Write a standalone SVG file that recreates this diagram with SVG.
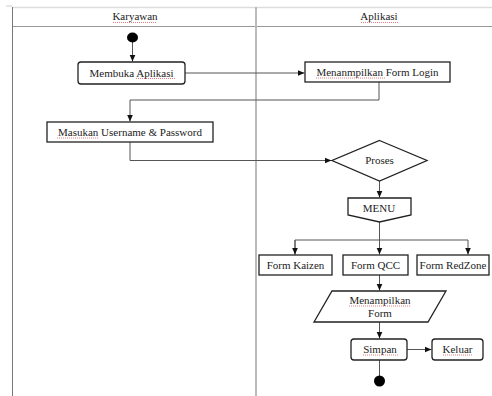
<svg xmlns="http://www.w3.org/2000/svg" width="492" height="396" viewBox="0 0 492 396">
<style>
.t{font-family:"Liberation Serif","Times New Roman",serif;font-size:11px;fill:#222;text-anchor:middle}
.b{fill:#fff;stroke:#222;stroke-width:1.3}
.c{fill:none;stroke:#555;stroke-width:1}
.sq{fill:none;stroke:#e06060;stroke-width:0.8;stroke-dasharray:1 1}
</style>
<defs>
<marker id="ah" markerWidth="8" markerHeight="8" refX="7" refY="4" orient="auto" markerUnits="userSpaceOnUse">
<path d="M0,1 L7,4 L0,7 Z" fill="#111"/>
</marker>
</defs>
<rect width="492" height="396" fill="#fff"/>
<g id="lanes">
<line x1="12" y1="7.5" x2="492" y2="7.5" stroke="#ddd" stroke-width="1.5"/>
<line x1="12" y1="26.5" x2="492" y2="26.5" stroke="#999" stroke-width="1"/>
<line x1="12.5" y1="7" x2="12.5" y2="396" stroke="#777" stroke-width="1"/>
<line x1="256" y1="7" x2="256" y2="396" stroke="#bbb" stroke-width="2"/>
<path d="M6,6 h6" stroke="#ccc" stroke-width="1"/>
<text class="t" x="135" y="20">Karyawan</text>
<text class="t" x="379" y="20">Aplikasi</text>
</g>
<g id="connectors">
<line class="c" x1="132.5" y1="42" x2="132.5" y2="61.5" marker-end="url(#ah)"/>
<line class="c" x1="185" y1="73" x2="304.5" y2="73" marker-end="url(#ah)"/>
<polyline class="c" points="379,82 379,100 130,100 130,121.5" marker-end="url(#ah)"/>
<polyline class="c" points="130,142 130,160.5 331.5,160.5" marker-end="url(#ah)"/>
<line class="c" x1="379.5" y1="181" x2="379.5" y2="197.5" marker-end="url(#ah)"/>
<line class="c" x1="379.5" y1="222" x2="379.5" y2="254.5" marker-end="url(#ah)"/>
<polyline class="c" points="295,254.5 295,240 468,240 468,254.5" marker-end="url(#ah)"/>
<line class="c" x1="295" y1="240" x2="295" y2="254.5" marker-end="url(#ah)"/>
<line class="c" x1="379.5" y1="275" x2="379.5" y2="290.5" marker-end="url(#ah)"/>
<line class="c" x1="379.5" y1="322" x2="379.5" y2="338.5" marker-end="url(#ah)"/>
<line class="c" x1="407" y1="349.5" x2="431.5" y2="349.5" marker-end="url(#ah)"/>
<line class="c" x1="379.5" y1="360" x2="379.5" y2="376"/>
</g>
<g id="start">
<ellipse cx="132.5" cy="37.5" rx="5.5" ry="5" fill="#000"/>
</g>
<g id="membuka">
<rect class="b" x="78" y="62" width="107" height="22" rx="3"/>
<text class="t" x="131.5" y="76.5">Membuka Aplikasi</text>
</g>
<g id="login">
<rect class="b" x="305" y="62" width="145" height="20"/>
<text class="t" x="377.5" y="76">Menanmpilkan Form Login</text>
</g>
<g id="masukan">
<rect class="b" x="47" y="122" width="166" height="20"/>
<text class="t" x="130" y="136">Masukan Username &amp; Password</text>
</g>
<g id="proses">
<polygon class="b" points="379.5,140.5 427,160.5 379.5,181 332,160.5"/>
<text class="t" x="379.5" y="164">Proses</text>
</g>
<g id="menu">
<polygon class="b" points="348,198 411,198 411,215 379.5,222 348,215"/>
<text class="t" x="379" y="212">MENU</text>
</g>
<g id="kaizen">
<rect class="b" x="259" y="255" width="73" height="20"/>
<text class="t" x="295.5" y="269">Form Kaizen</text>
</g>
<g id="qcc">
<rect class="b" x="343" y="255" width="65" height="20"/>
<text class="t" x="375.5" y="269">Form QCC</text>
</g>
<g id="redzone">
<rect class="b" x="417" y="255" width="72" height="20"/>
<text class="t" x="453" y="269">Form RedZone</text>
</g>
<g id="tampil">
<polygon class="b" points="332,291 446,291 428,322 314,322"/>
<text class="t" x="380" y="304">Menampilkan</text>
<text class="t" x="380" y="317">Form</text>
</g>
<g id="simpan">
<rect class="b" x="351" y="339" width="56" height="21" rx="3"/>
<text class="t" x="380" y="353">Simpan</text>
</g>
<g id="keluar">
<rect class="b" x="432" y="339" width="51" height="21" rx="3"/>
<text class="t" x="457.5" y="353">Keluar</text>
</g>
<g id="end">
<ellipse cx="379.5" cy="381" rx="5.5" ry="5.5" fill="#000"/>
</g>
<g id="spellmarks">
<line class="sq" x1="113" y1="22.5" x2="157" y2="22.5"/>
<line class="sq" x1="361" y1="22.5" x2="398" y2="22.5"/>
<line class="sq" x1="136" y1="78.5" x2="176" y2="78.5"/>
<line class="sq" x1="316" y1="78" x2="385" y2="78"/>
<line class="sq" x1="57" y1="138" x2="98" y2="138"/>
<line class="sq" x1="349" y1="306" x2="411" y2="306"/>
<line class="sq" x1="363" y1="355" x2="398" y2="355"/>
<line class="sq" x1="443" y1="355" x2="472" y2="355"/>
</g>
</svg>
